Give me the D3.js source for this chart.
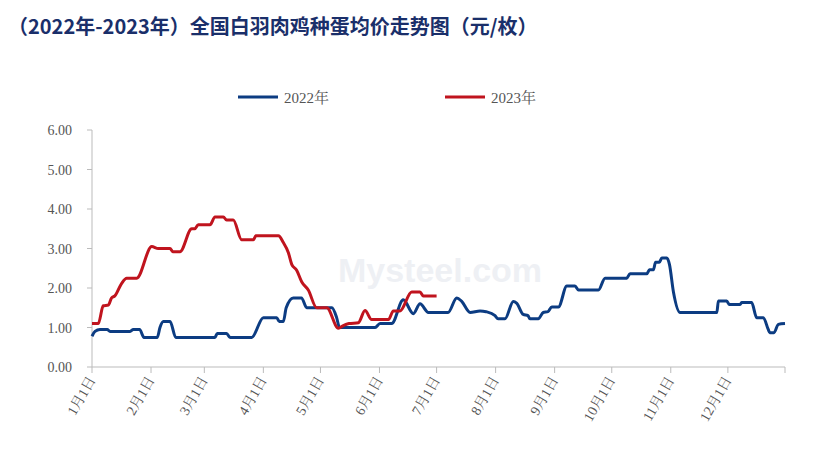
<!DOCTYPE html>
<html><head><meta charset="utf-8">
<script src="https://cdn.jsdelivr.net/npm/d3@7"></script>
<style>body{margin:0;background:#fff}</style></head>
<body><svg id="c" width="815" height="461"></svg>
<script>
var monthDays = [0,31,59,90,120,151,181,212,243,273,304,334];
var monthLabels = ["1月1日","2月1日","3月1日","4月1日","5月1日","6月1日","7月1日","8月1日","9月1日","10月1日","11月1日","12月1日"];
var yTicks = [0,1,2,3,4,5,6];

// [day of year, price]
var s2022 = [[0,0.78],[1.6,0.9],[4.2,0.95],[8,0.95],[9.5,0.9],[20,0.9],[21.7,0.95],[25,0.95],[27.3,0.75],[34.3,0.75],[35.7,1.0],[37.5,1.15],[41,1.15],[44,0.75],[64.6,0.75],[65.8,0.85],[70.7,0.85],[72.5,0.75],[83.9,0.75],[90,1.25],[97,1.25],[98.4,1.15],[100.5,1.15],[102,1.5],[105.7,1.75],[110,1.75],[112.8,1.5],[126,1.5],[128.5,1.25],[130,1.0],[148.7,1.0],[151.3,1.1],[157.4,1.1],[163.5,1.7],[168.8,1.35],[172.3,1.6],[176.7,1.38],[187,1.38],[191.6,1.75],[194.2,1.66],[198.6,1.38],[203.8,1.42],[207,1.4],[211.7,1.3],[213.3,1.22],[216.9,1.22],[221.3,1.66],[223,1.62],[226.5,1.33],[229,1.3],[230,1.22],[234.4,1.22],[237,1.38],[239.5,1.4],[241.5,1.52],[245,1.52],[249.4,2.05],[253.7,2.05],[255.5,1.95],[266,1.95],[269.5,2.25],[280.9,2.25],[282.6,2.36],[291.4,2.36],[292.8,2.46],[294.9,2.46],[296,2.65],[298,2.65],[299.3,2.76],[301.9,2.76],[303.3,2.6],[305.4,1.9],[308.9,1.38],[328.2,1.38],[329,1.67],[333.4,1.67],[334.8,1.58],[340.4,1.58],[341.2,1.63],[346.5,1.63],[349.1,1.25],[352.6,1.25],[355.2,0.95],[356,0.87],[358.2,0.87],[360.5,1.08],[364,1.1]];
var s2023 = [[0,1.1],[3.3,1.1],[5.9,1.55],[8.6,1.57],[10.3,1.75],[12,1.8],[15.6,2.12],[18.2,2.25],[23.5,2.25],[31.4,3.05],[34.8,3.0],[41,3.0],[42.4,2.92],[46.2,2.92],[52.4,3.5],[54,3.5],[55.8,3.6],[62,3.6],[64.6,3.8],[69,3.8],[70.7,3.72],[74.2,3.72],[78.6,3.22],[84.7,3.22],[86.1,3.32],[97.9,3.32],[100.5,3.15],[103.1,2.9],[104.9,2.6],[107.5,2.45],[110.2,2.15],[113.6,1.95],[118,1.5],[123.3,1.5],[129.4,0.98],[132,1.05],[135,1.1],[139.9,1.12],[143.4,1.43],[146.9,1.2],[155.7,1.2],[158.3,1.42],[161.8,1.42],[167.9,1.9],[172.3,1.9],[174,1.8],[181,1.8]];

var svg = d3.select("#c");
var x = d3.scaleLinear().domain([0,364]).range([92,785]);
var y = d3.scaleLinear().domain([0,6]).range([367,130]);
var serif = "'Times New Roman','Liberation Serif','Noto Serif CJK SC',serif";

svg.append("text").attr("x",8).attr("y",34).attr("fill","#1a2f6a")
  .attr("font-size",20).attr("font-weight","bold").attr("font-family","'Noto Sans CJK SC',serif")
  .text("（2022年-2023年）全国白羽肉鸡种蛋均价走势图（元/枚）");

// watermark
svg.append("text").attr("x",440).attr("y",282).attr("text-anchor","middle").attr("fill","#eef0f4")
  .attr("font-size",34).attr("font-weight","bold").attr("font-family","Arial,sans-serif").text("Mysteel.com");

// axes
svg.append("line").attr("x1",92).attr("x2",92).attr("y1",130).attr("y2",367).attr("stroke","#bbb");
yTicks.forEach(function(t){
  svg.append("line").attr("x1",87).attr("x2",92).attr("y1",y(t)).attr("y2",y(t)).attr("stroke","#bbb");
  svg.append("text").attr("x",72).attr("y",y(t)+5).attr("text-anchor","end").attr("fill","#555")
    .attr("font-size",14).attr("font-family",serif).text(t.toFixed(2));
});
svg.append("line").attr("x1",92).attr("x2",785).attr("y1",367).attr("y2",367).attr("stroke","#bbb");
monthDays.concat([364]).forEach(function(d){
  svg.append("line").attr("x1",x(d)).attr("x2",x(d)).attr("y1",367).attr("y2",373).attr("stroke","#bbb");
});
monthDays.forEach(function(d,i){
  svg.append("text").attr("transform","translate("+(x(d)+4)+",380) rotate(-60)")
    .attr("text-anchor","end").attr("fill","#555").attr("font-size",14).attr("font-family",serif)
    .text(monthLabels[i]);
});

var line = d3.line().x(function(d){return x(d[0]);}).y(function(d){return y(d[1]);}).curve(d3.curveMonotoneX);
svg.append("path").datum(s2022).attr("d",line).attr("fill","none").attr("stroke","#0c3c82").attr("stroke-width",3).attr("stroke-linejoin","round");
svg.append("path").datum(s2023).attr("d",line).attr("fill","none").attr("stroke","#c0141e").attr("stroke-width",3).attr("stroke-linejoin","round");

// legend
[["2022年","#0c3c82",238],["2023年","#c0141e",445]].forEach(function(l){
  svg.append("line").attr("x1",l[2]).attr("x2",l[2]+40).attr("y1",97).attr("y2",97).attr("stroke",l[1]).attr("stroke-width",3);
  svg.append("text").attr("x",l[2]+46).attr("y",103).attr("fill","#555").attr("font-size",15).attr("font-family",serif).text(l[0]);
});
</script></body></html>
